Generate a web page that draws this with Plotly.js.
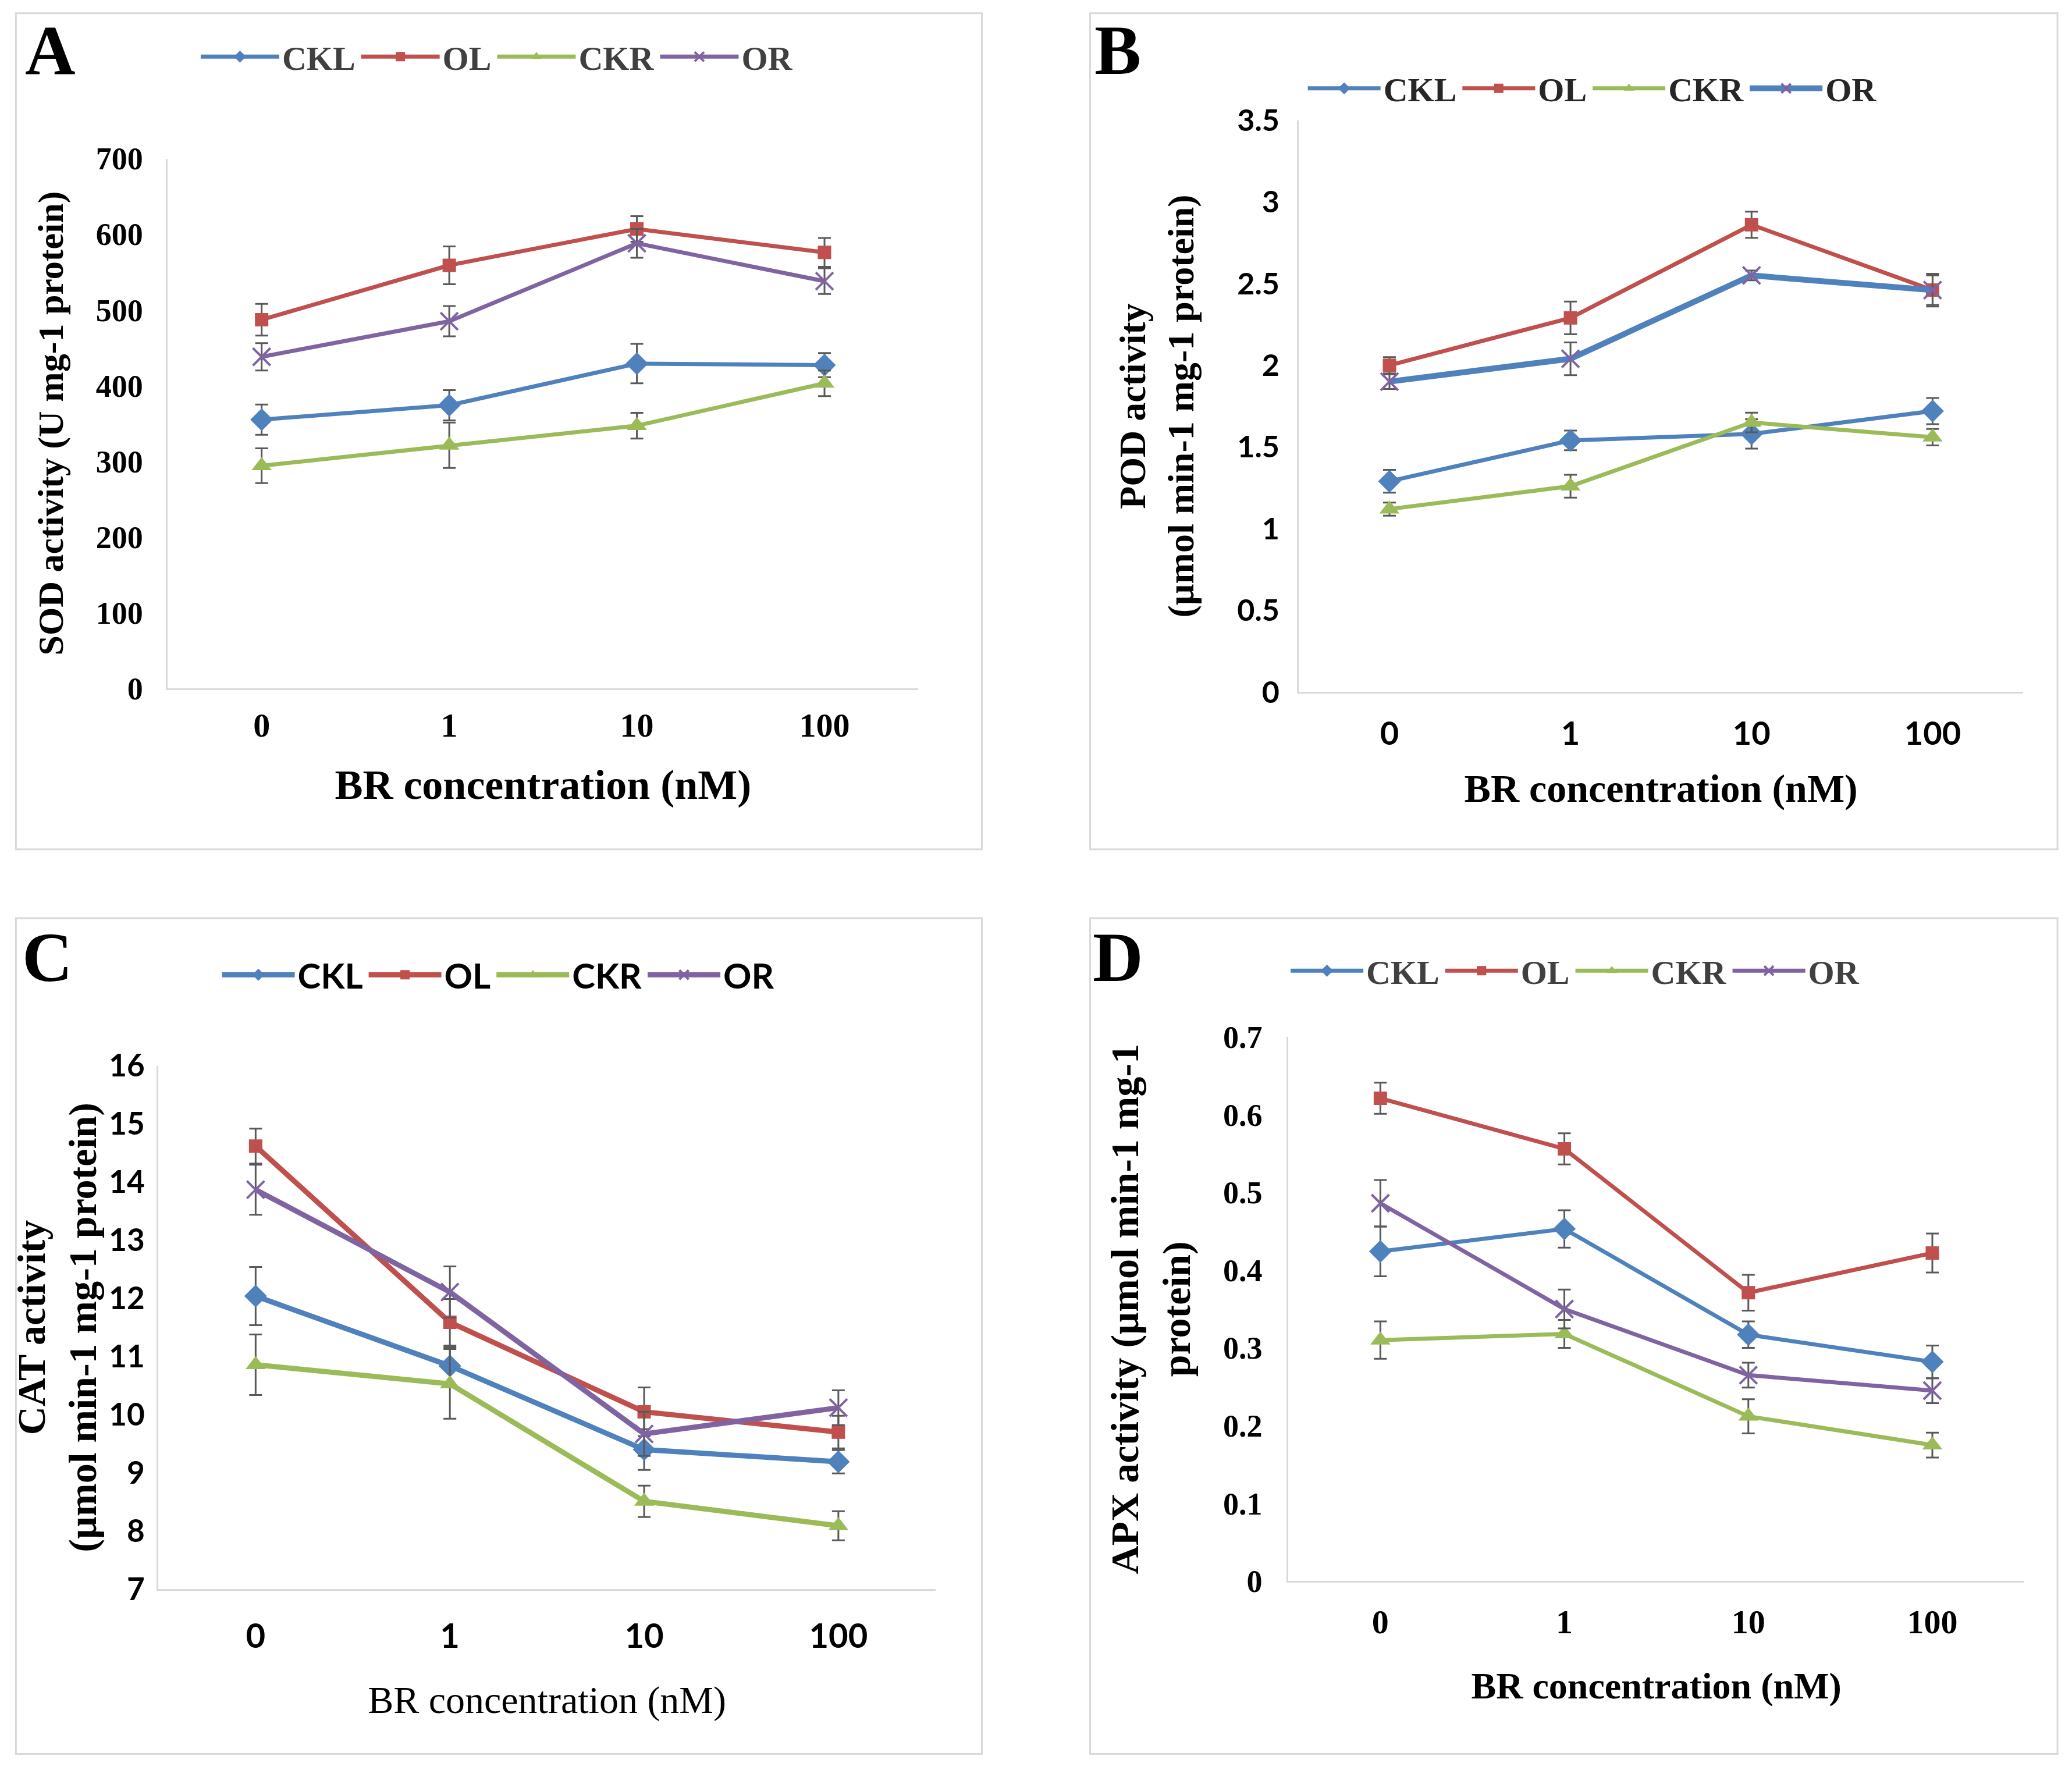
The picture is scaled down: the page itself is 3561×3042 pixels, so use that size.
<!DOCTYPE html>
<html>
<head>
<meta charset="utf-8">
<script src="https://cdn.plot.ly/plotly-3.0.1.min.js"></script>
<style>html,body{margin:0;padding:0;background:#fff;}#chart{width:3561px;height:3042px;}</style>
</head>
<body>
<div id="chart"></div>
<script>
// ---------- data ----------
const categories = ['0', '1', '10', '100'];
const seriesNames = ['CKL', 'OL', 'CKR', 'OR'];

// A: SOD activity (U mg-1 protein)
const sodCKL = [355, 374, 429, 427];
const sodCKLerr = [20, 20, 26, 16];
const sodOL = [487, 559, 607, 576];
const sodOLerr = [21, 25, 17, 19];
const sodCKR = [294, 321, 347, 403];
const sodCKRerr = [23, 30, 17, 17];
const sodOR = [438, 485, 588, 538];
const sodORerr = [18, 20, 19, 17];

// B: POD activity
const podCKL = [1.29, 1.54, 1.58, 1.72];
const podCKLerr = [0.07, 0.06, 0.09, 0.08];
const podOL = [2.00, 2.29, 2.86, 2.46];
const podOLerr = [0.05, 0.10, 0.08, 0.10];
const podCKR = [1.12, 1.26, 1.65, 1.56];
const podCKRerr = [0.04, 0.07, 0.06, 0.05];
const podOR = [1.90, 2.04, 2.55, 2.46];
const podORerr = [0.045, 0.10, 0.03, 0.09];

// C: CAT activity
const catCKL = [12.04, 10.84, 9.40, 9.19];
const catCKLerr = [0.50, 0.32, 0.35, 0.20];
const catOL = [14.62, 11.59, 10.05, 9.70];
const catOLerr = [0.30, 0.40, 0.42, 0.28];
const catCKR = [10.86, 10.53, 8.51, 8.09];
const catCKRerr = [0.52, 0.60, 0.27, 0.25];
const catOR = [13.87, 12.11, 9.67, 10.12];
const catORerr = [0.43, 0.44, 0.38, 0.30];

// D: APX activity
const apxCKL = [0.424, 0.453, 0.317, 0.282];
const apxCKLerr = [0.032, 0.024, 0.017, 0.021];
const apxOL = [0.621, 0.556, 0.371, 0.422];
const apxOLerr = [0.020, 0.020, 0.023, 0.025];
const apxCKR = [0.310, 0.318, 0.212, 0.175];
const apxCKRerr = [0.024, 0.018, 0.022, 0.016];
const apxOR = [0.486, 0.350, 0.265, 0.245];
const apxORerr = [0.030, 0.025, 0.016, 0.016];

const yTicksA = [0, 100, 200, 300, 400, 500, 600, 700];
const yTicksB = [0, 0.5, 1, 1.5, 2, 2.5, 3, 3.5];
const yTicksC = [7, 8, 9, 10, 11, 12, 13, 14, 15, 16];
const yTicksD = [0, 0.1, 0.2, 0.3, 0.4, 0.5, 0.6, 0.7];

// ---------- styles ----------
const BLUE = '#4F81BD', RED = '#C0504D', GREEN = '#9BBB59', PURPLE = '#8064A2';
const ERR = '#595959';
const TNR = '"Liberation Serif", "Times New Roman", serif';
const CAL = 'Lato, "Liberation Sans", sans-serif';
const AXC = '#D9D9D9';

function mk(name, y, err, panel, opts) {
  const sfx = panel === 1 ? '' : String(panel);
  const sym = {CKL: 'diamond', OL: 'square', CKR: 'triangle-up', OR: 'x-thin-open'}[name];
  const col = {CKL: BLUE, OL: RED, CKR: GREEN, OR: PURPLE}[name];
  const size = {CKL: 30, OL: 23, CKR: 30, OR: 30}[name];
  const lineCol = opts.lineColor || col;
  return {
    type: 'scatter', mode: 'lines+markers', name: name,
    x: categories, y: y,
    xaxis: 'x' + sfx, yaxis: 'y' + sfx,
    legend: 'legend' + sfx,
    line: {color: lineCol, width: opts.lw || 7},
    marker: {symbol: sym, size: size, color: col, line: {color: col, width: name === 'OR' ? 4 : 0}},
    error_y: {type: 'data', array: err, visible: true, color: ERR, thickness: 3, width: 11}
  };
}

const traces = [
  mk('CKL', sodCKL, sodCKLerr, 1, {}),
  mk('OL', sodOL, sodOLerr, 1, {}),
  mk('CKR', sodCKR, sodCKRerr, 1, {}),
  mk('OR', sodOR, sodORerr, 1, {}),
  mk('CKL', podCKL, podCKLerr, 2, {}),
  mk('OL', podOL, podOLerr, 2, {}),
  mk('CKR', podCKR, podCKRerr, 2, {}),
  mk('OR', podOR, podORerr, 2, {lineColor: BLUE, lw: 10}),
  mk('CKL', catCKL, catCKLerr, 3, {lw: 9}),
  mk('OL', catOL, catOLerr, 3, {lw: 9}),
  mk('CKR', catCKR, catCKRerr, 3, {lw: 9}),
  mk('OR', catOR, catORerr, 3, {lw: 9}),
  mk('CKL', apxCKL, apxCKLerr, 4, {}),
  mk('OL', apxOL, apxOLerr, 4, {}),
  mk('CKR', apxCKR, apxCKRerr, 4, {}),
  mk('OR', apxOR, apxORerr, 4, {})
];

function xax(domain, anchor, tickFont, titleText, titleFont, tstand, standoff) {
  return {
    domain: domain, anchor: anchor, type: 'category',
    range: [-0.5, 3.5], showgrid: false, zeroline: false,
    showline: true, linecolor: AXC, linewidth: 3, ticks: '',
    tickfont: tickFont, ticklabelstandoff: tstand,
    title: {text: titleText, font: titleFont, standoff: standoff},
    fixedrange: true
  };
}
function yax(domain, anchor, range, tickvals, tickFont, tstand, titleText, titleFont, standoff) {
  return {
    domain: domain, anchor: anchor, range: range,
    tickmode: 'array', tickvals: tickvals, ticktext: tickvals.map(String),
    showgrid: false, zeroline: false, showline: true, linecolor: AXC, linewidth: 3,
    ticks: '', tickfont: tickFont, ticklabelstandoff: tstand,
    title: {text: titleText, font: titleFont, standoff: standoff},
    fixedrange: true
  };
}

const bold = (fam, size, color) => ({family: fam, size: size, color: color || '#000', weight: 'bold'});
const reg = (fam, size, color) => ({family: fam, size: size, color: color || '#000', weight: 'normal'});

function legendDef(x, y, font, iw) {
  return {orientation: 'h', x: x, y: y, xanchor: 'center', yanchor: 'middle',
    font: font, itemwidth: iw, bgcolor: 'rgba(0,0,0,0)', itemclick: false, itemdoubleclick: false,
    tracegroupgap: 0, traceorder: 'normal'};
}

const layout = {
  width: 3561, height: 3042,
  margin: {l: 0, r: 0, t: 0, b: 0},
  paper_bgcolor: '#fff', plot_bgcolor: '#fff',
  showlegend: true,
  xaxis: xax([0.0810, 0.4432], 'y', bold(TNR, 58), 'BR concentration (nM)', bold(TNR, 72), 11, 45),
  yaxis: yax([0.6112, 0.9104], 'x', [0, 700], yTicksA, bold(TNR, 54), 29, 'SOD activity (U mg-1 protein)', bold(TNR, 62), 36),
  xaxis2: xax([0.6269, 0.9764], 'y2', bold(CAL, 56), 'BR concentration (nM)', bold(TNR, 68), 20, 40),
  yaxis2: yax([0.6090, 0.9321], 'x2', [0, 3.5], yTicksB, bold(CAL, 52), 20, 'POD activity<br>(µmol min-1 mg-1 protein)', bold(TNR, 64), 54),
  xaxis3: xax([0.0765, 0.4515], 'y3', bold(CAL, 58), 'BR concentration (nM)', reg(TNR, 66), 28, 56),
  yaxis3: yax([0.1022, 0.3978], 'x3', [7, 16], yTicksC, bold(CAL, 53), 10, 'CAT activity<br>(µmol min-1 mg-1 protein)', bold(TNR, 68), 0),
  xaxis4: xax([0.6218, 0.9770], 'y4', bold(TNR, 58), 'BR concentration (nM)', bold(TNR, 64), 17, 56),
  yaxis4: yax([0.1067, 0.4142], 'x4', [0, 0.7], yTicksD, bold(TNR, 54), 31, 'APX activity (µmol min-1 mg-1<br>protein)', bold(TNR, 68), 35),
  legend: legendDef(0.2398, 0.9679, bold(TNR, 58, '#404040'), 135),
  legend2: legendDef(0.7685, 0.9500, bold(TNR, 58, '#262626'), 125),
  legend3: legendDef(0.2404, 0.4493, bold(CAL, 60, '#000'), 125),
  legend4: legendDef(0.7602, 0.4515, bold(TNR, 58, '#404040'), 125),
  shapes: [
    {type: 'rect', xref: 'paper', yref: 'paper', x0: 0.0077, x1: 0.4739, y0: 0.5201, y1: 0.9925, line: {color: AXC, width: 3}},
    {type: 'rect', xref: 'paper', yref: 'paper', x0: 0.5261, x1: 0.9930, y0: 0.5201, y1: 0.9925, line: {color: AXC, width: 3}},
    {type: 'rect', xref: 'paper', yref: 'paper', x0: 0.0077, x1: 0.4739, y0: 0.0090, y1: 0.4813, line: {color: AXC, width: 3}},
    {type: 'rect', xref: 'paper', yref: 'paper', x0: 0.5261, x1: 0.9930, y0: 0.0090, y1: 0.4813, line: {color: AXC, width: 3}}
  ],
  annotations: [
    {text: 'A', x: 0.0242, y: 0.9716},
    {text: 'B', x: 0.5395, y: 0.9716},
    {text: 'C', x: 0.0230, y: 0.4590},
    {text: 'D', x: 0.5395, y: 0.4590}
  ].map(a => Object.assign(a, {xref: 'paper', yref: 'paper', showarrow: false, xanchor: 'center', yanchor: 'middle',
    font: {family: TNR, size: 120, color: '#000', weight: 'bold'}}))
};

Plotly.newPlot('chart', traces, layout, {staticPlot: true, displayModeBar: false});
</script>
</body>
</html>
